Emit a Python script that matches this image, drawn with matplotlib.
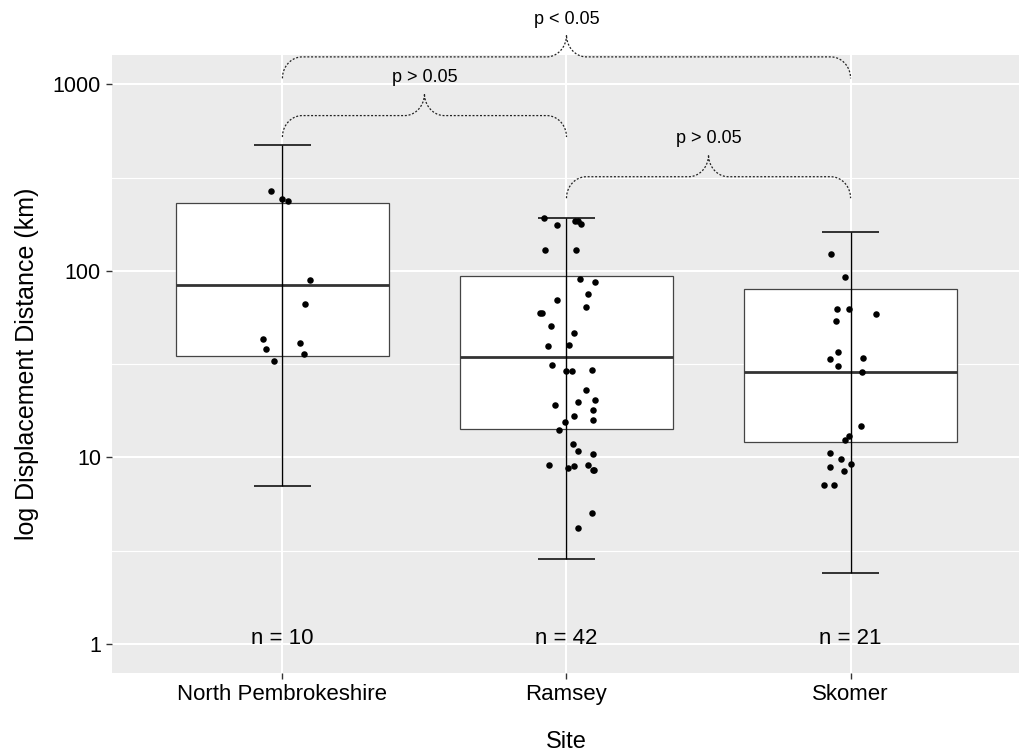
import numpy as np
import matplotlib
matplotlib.use("Agg")
import matplotlib.pyplot as plt

plt.rcParams['font.family'] = ['Liberation Sans', 'DejaVu Sans']

# sites and summary stats
sites = ["North Pembrokeshire", "Ramsey", "Skomer"]
n_labels = ["n = 10", "n = 42", "n = 21"]
whisker_lo = [7.0, 2.86, 2.41]
q1 = [35.0, 14.2, 12.05]
median = [84.0, 34.4, 28.8]
q3 = [231.0, 94.2, 79.6]
whisker_hi = [472.0, 193.0, 162.0]

# individual observations (km) and their horizontal jitter
np_vals = [267, 243, 236, 89, 66, 43, 41, 38, 36, 33]
np_jit = [-0.039, 0.0, 0.018, 0.098, 0.080, -0.070, 0.062, -0.057, 0.075, -0.030]

ramsey_vals = [193, 175, 185, 185, 178, 130, 130, 90.4, 87.5, 74.8, 69.5, 64,
               59.2, 59.2, 50.8, 46.2, 39.5, 40.2, 31.4, 29.0, 29.0, 29.5, 23.0,
               19.2, 19.7, 20.3, 17.9, 16.6, 15.9, 15.4, 14.0, 11.8, 10.8, 10.4,
               9.07, 8.81, 8.96, 9.07, 8.59, 8.55, 5.06, 4.19]
ramsey_jit = [-0.079, -0.035, 0.031, 0.040, 0.050, -0.074, 0.035, 0.046, 0.102,
              0.076, -0.032, 0.067, -0.093, -0.087, -0.056, 0.027, -0.066, 0.010,
              -0.052, 0.0, 0.020, 0.089, 0.067, -0.039, 0.040, 0.102, 0.094,
              0.027, 0.094, -0.006, -0.026, 0.022, 0.040, 0.094, -0.061, 0.005,
              0.027, 0.076, 0.094, 0.098, 0.089, 0.040]

skomer_vals = [123, 93, 62.2, 62.2, 58.5, 54.0, 36.7, 33.6, 34.1, 30.9, 28.6,
               14.7, 13.0, 12.4, 10.5, 9.84, 9.25, 8.85, 8.45, 7.11, 7.11]
skomer_jit = [-0.070, -0.018, -0.049, -0.004, 0.089, -0.053, -0.045, -0.074,
              0.043, -0.045, 0.040, 0.035, -0.004, -0.018, -0.074, -0.035, 0.0,
              -0.074, -0.022, -0.093, -0.057]

# pairwise comparisons: (from site, to site, label, brace base height in km)
comparisons = [(0, 1, "p > 0.05", 521), (1, 2, "p > 0.05", 245), (0, 2, "p < 0.05", 1075)]


def draw_brace(ax, x0, x1, base, label, r=0.07, h1=0.115, h2=0.118):
    # curly brace built in log10 space, mirrored around the middle
    b = np.log10(base)
    xm = (x0 + x1) / 2
    t = np.linspace(0, np.pi / 2, 30)
    xa = x0 + r - r * np.cos(t)          # end, bending to horizontal
    ya = b + h1 * np.sin(t)
    xb = xm - r + r * np.sin(t)          # horizontal, bending up to the cusp
    yb = b + h1 + h2 - h2 * np.cos(t)
    xs = np.concatenate([xa, xb, (2 * xm - xb)[::-1], (2 * xm - xa)[::-1]])
    ys = np.concatenate([ya, yb, yb[::-1], ya[::-1]])
    ax.plot(xs, 10 ** ys, color='#222222', lw=0.9, ls=(0, (1.6, 1.4)), clip_on=False)
    ax.text(xm, 10 ** (b + h1 + h2 + 0.085), label, ha='center', va='center',
            fontsize=13, color='black', clip_on=False)


fig = plt.figure(figsize=(10.2, 7.56), dpi=100)
ax = fig.add_axes([112 / 1020, 83 / 756, 909 / 1020, 618 / 756])
ax.set_facecolor('#EBEBEB')
ax.set_yscale('log')
ax.set_xlim(-0.6, 2.6)
ax.set_ylim(0.699, 1434)

# grid
ax.set_yticks([1, 10, 100, 1000])
ax.set_yticklabels(["1", "10", "100", "1000"])
ax.set_yticks([3.162, 31.62, 316.2], minor=True)
ax.yaxis.set_minor_formatter(matplotlib.ticker.NullFormatter())
ax.set_xticks(range(len(sites)))
ax.set_xticklabels(sites)
ax.grid(True, which='major', color='white', lw=1.5)
ax.grid(True, which='minor', axis='y', color='white', lw=0.8)
ax.set_axisbelow(True)
for s in ax.spines.values():
    s.set_visible(False)
ax.tick_params(axis='both', which='major', length=4, width=1, color='#333333',
               labelcolor='black')
ax.tick_params(axis='x', labelsize=16, pad=4)
ax.tick_params(axis='y', labelsize=15.5, pad=4)
ax.tick_params(which='minor', length=0)

x = np.arange(len(sites))
heights = np.array(q3) - np.array(q1)
ax.bar(x, heights, bottom=q1, width=0.75, color='white', edgecolor='#444444',
       linewidth=0.9, zorder=2)
ax.hlines(median, x - 0.375, x + 0.375, color='#333333', lw=2.0, zorder=3)
ax.vlines(x, whisker_lo, whisker_hi, color='black', lw=1.0, zorder=4)
ax.hlines(whisker_lo, x - 0.1, x + 0.1, color='black', lw=1.1, zorder=4)
ax.hlines(whisker_hi, x - 0.1, x + 0.1, color='black', lw=1.1, zorder=4)

for i, (vals, jit) in enumerate([(np_vals, np_jit), (ramsey_vals, ramsey_jit),
                                 (skomer_vals, skomer_jit)]):
    ax.scatter(i + np.array(jit), vals, s=22, color='black', zorder=5, linewidths=0)

for i, lab in enumerate(n_labels):
    ax.text(i, 1.0, lab, ha='center', va='baseline', fontsize=16, color='black')

for a, b, lab, base in comparisons:
    draw_brace(ax, a, b, base, lab)

ax.set_xlabel("Site", fontsize=17, labelpad=19)
ax.set_ylabel("log Displacement Distance (km)", fontsize=18, labelpad=10)

fig.savefig("out.png", dpi=100, facecolor='white')
